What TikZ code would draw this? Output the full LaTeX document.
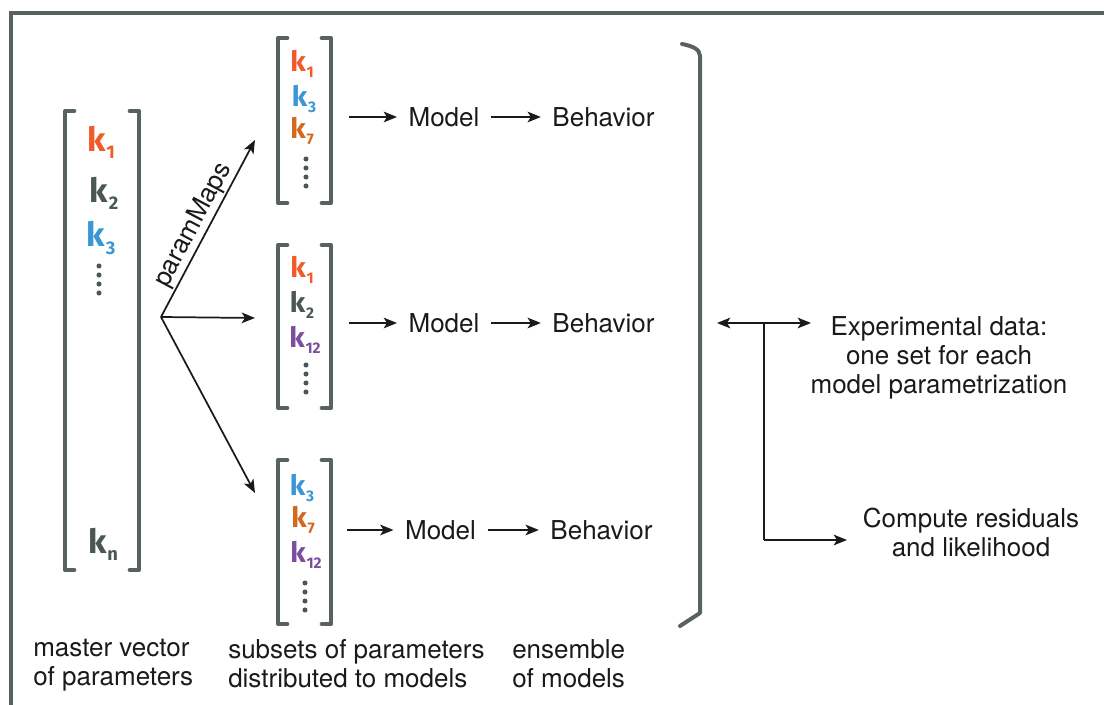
\documentclass[tikz,border=0pt]{standalone}
\usepackage{fontspec}
\setmainfont{TeX Gyre Heros}
\newfontfamily\kfont{Fira Sans}
\usetikzlibrary{arrows.meta,fit}
\definecolor{frm}{HTML}{58625F}
\definecolor{txtc}{HTML}{1A1A1A}
\definecolor{kred}{HTML}{F15A29}
\definecolor{kgray}{HTML}{4B5755}
\definecolor{kblue}{HTML}{3A97D4}
\definecolor{korange}{HTML}{D2691E}
\definecolor{kpurple}{HTML}{7B4FA0}
\tikzset{
  framestyle/.style={draw=frm, line width=3pt},
  brk/.style={draw=frm, line width=3pt, line cap=round, line join=round},
  vec/.style={inner sep=0pt, outer sep=0pt, draw=none},
  txt/.style={text=txtc, inner sep=0pt, font=\fontsize{19.5}{21.75}\selectfont},
  word/.style={txt, inner xsep=8.5pt},
  arr/.style={draw=txtc, line width=1.3pt, -{Stealth[length=10pt,width=8pt,inset=2.5pt]}},
  darr/.style={draw=txtc, line width=1.3pt, {Stealth[length=10pt,width=8pt,inset=2.5pt]}-{Stealth[length=10pt,width=8pt,inset=2.5pt]}},
}
\newcommand\kk[5]{\node[text=#1, inner sep=0pt, font=\kfont\bfseries\fontsize{#3}{#3}\selectfont] (#5) at (#4) {k\kern0.03em\raisebox{-0.4ex}{\scalebox{0.55}{#2}}};}
\newcommand\dotcol[2]{\foreach \i in {0,1,2,3} \fill[kgray] (#1,#2+\i*9) circle (1.9pt);}
\newcommand\sqbr[1]{%
  \draw[brk] ([xshift=7pt]#1.north west) -- (#1.north west) -- (#1.south west) -- ([xshift=7pt]#1.south west);
  \draw[brk] ([xshift=-7pt]#1.north east) -- (#1.north east) -- (#1.south east) -- ([xshift=-7pt]#1.south east);}
\begin{document}
\begin{tikzpicture}[x=0.75pt,y=-0.75pt]
\useasboundingbox (0,0) rectangle (1104,705);
% frame
\draw[framestyle] (11,705) -- (11,13) -- (1104,13);

% master vector
\node[vec, fit={(65,111) (139,570)}] (mv) {};
\sqbr{mv}
\kk{kred}{1}{25}{101,142}{mk1}
\kk{kgray}{2}{25}{104,193}{mk2}
\kk{kblue}{3}{25}{101,238}{mk3}
\dotcol{99}{266}
\kk{kgray}{n}{25}{103,544}{mkn}

% subset vectors
\node[vec, fit={(278,38) (331,203)}] (s1) {};
\node[vec, fit={(278,245) (331,408)}] (s2) {};
\node[vec, fit={(278,460) (331,624)}] (s3) {};
\sqbr{s1}\sqbr{s2}\sqbr{s3}
\kk{kred}{1}{21}{302,64}{a1}
\kk{kblue}{3}{21}{304,99}{a3}
\kk{korange}{7}{21}{302,131}{a7}
\dotcol{306}{159}
\kk{kred}{1}{21}{302,270}{b1k}
\kk{kgray}{2}{21}{302,305}{b2k}
\kk{kpurple}{12}{21}{305,340}{b12}
\dotcol{306}{365}
\kk{kblue}{3}{21}{302,488}{c3}
\kk{korange}{7}{21}{303,520}{c7}
\kk{kpurple}{12}{21}{306,555}{c12}
\dotcol{305}{583}

% paramMaps
\coordinate (split) at (161,317);
\coordinate (t1) at (255,140);
\coordinate (t2) at (255,318);
\coordinate (t3) at (255,493);
\draw[arr] (split) -- node[txt, sloped, above, inner sep=0pt, yshift=1pt, pos=0.48] (pm) {paramMaps} (t1);
\draw[arr] (split) -- (t2);
\draw[arr] (split) -- (t3);

% model rows
\node[word] (m1) at (444,117) {Model};
\node[word] (be1) at (603.5,117) {Behavior};
\node[word] (m2) at (444,323) {Model};
\node[word] (be2) at (603.5,323) {Behavior};
\node[word] (m3) at (440.5,530) {Model};
\node[word] (be3) at (601.5,530) {Behavior};
\draw[arr] (s1.east |- m1.west) ++(13.5pt,0) -- (m1.west);
\draw[arr] (m1) -- (be1);
\draw[arr] (s2.east |- m2.west) ++(13.5pt,0) -- (m2.west);
\draw[arr] (m2) -- (be2);
\draw[arr] (s3.east |- m3.west) ++(12pt,0) -- (m3.west);
\draw[arr] (m3) -- (be3);

% ensemble bracket
\draw[brk] (682,44) .. controls (692,46) and (700,49) .. (700,56) -- (700,613) -- (680,626);
\coordinate (eb) at (717,323);
\coordinate (dr) at (811,323);
\coordinate (jn) at (764,323);
\coordinate (ra) at (847,540);
\draw[darr] (eb) -- (dr);
\draw[draw=txtc, line width=1.3pt] (jn) -- (jn |- ra);
\draw[arr] (jn |- ra) -- (ra);

\node[txt, align=center] (exp) at (939,358) {Experimental data:\\one set for each\\model parametrization};
\node[txt, align=center] (res) at (971,532) {Compute residuals\\and likelihood};

% bottom labels
\node[txt, align=left, anchor=north west] (lab1) at (33,639) {master vector\\of parameters};
\node[txt, align=left, anchor=north west] (lab2) at (228,639) {subsets of parameters\\distributed to models};
\node[txt, align=left, anchor=north west] (lab3) at (512,639) {ensemble\\of models};
\end{tikzpicture}
\end{document}
